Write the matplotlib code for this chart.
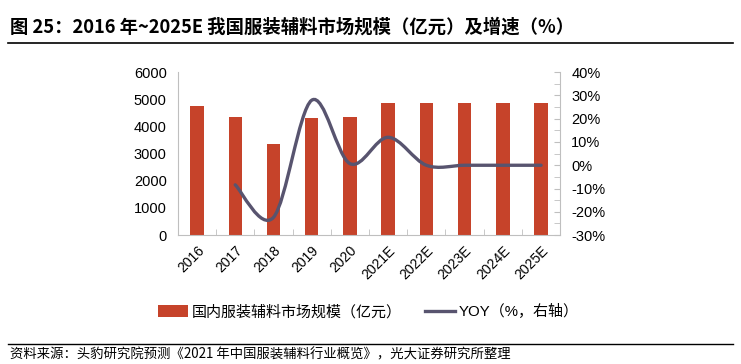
import numpy as np
import matplotlib
matplotlib.use('Agg')
import matplotlib.pyplot as plt
from matplotlib.path import Path
from matplotlib.patches import PathPatch, Patch
from matplotlib.lines import Line2D
from matplotlib.ticker import MultipleLocator, FuncFormatter

plt.rcParams['font.family'] = ['Liberation Sans', 'Noto Sans CJK SC']

# data
years = ['2016', '2017', '2018', '2019', '2020', '2021E', '2022E', '2023E', '2024E', '2025E']
market_size = [4740, 4340, 3370, 4310, 4340, 4860, 4860, 4860, 4860, 4860]   # 亿元
yoy = [None, -8.4, -22.4, 27.9, 0.7, 12.0, 0.0, 0.0, 0.0, 0.0]              # %

bar_color = '#C6432A'
line_color = '#58546F'
spine_color = '#BFBFBF'

fig = plt.figure(figsize=(7.41, 3.64), dpi=100)
ax = fig.add_axes([0.240, 0.354, 0.516, 0.448])
ax2 = ax.twinx()

x = np.arange(len(years))
ax.bar(x, market_size, width=0.35, color=bar_color, zorder=2)
ax.set_xlim(-0.5, len(years) - 0.5)
ax.set_ylim(0, 6000)
ax.yaxis.set_major_locator(MultipleLocator(1000))
ax.set_xticks(x)
ax.set_xticklabels(years, rotation=45, ha='right', va='top', rotation_mode='anchor', fontsize=10)
ax.tick_params(axis='x', length=0, pad=6)
ax.set_xticks(np.arange(-0.5, len(years)), minor=True)
ax.tick_params(axis='x', which='minor', direction='in', length=4, color=spine_color)
ax.tick_params(axis='y', direction='in', length=0, labelsize=10.5, pad=8)
for s in ['top', 'right']:
    ax.spines[s].set_visible(False)
for s in ['left', 'bottom']:
    ax.spines[s].set_color(spine_color)

# smoothed YOY line (Excel-style Bezier smoothing through the data points)
xs = [i for i, v in enumerate(yoy) if v is not None]
ys = [v for v in yoy if v is not None]
pts = np.column_stack([xs, ys]).astype(float)
n = len(pts)
verts = [pts[0]]
codes = [Path.MOVETO]
for i in range(n - 1):
    p0 = pts[i - 1] if i > 0 else pts[i]
    p1 = pts[i]
    p2 = pts[i + 1]
    p3 = pts[i + 2] if i + 2 < n else pts[i + 1]
    c1 = p1 + (p2 - p0) / 6.0
    c2 = p2 - (p3 - p1) / 6.0
    verts += [c1, c2, p2]
    codes += [Path.CURVE4] * 3
ax2.add_patch(PathPatch(Path(verts, codes), facecolor='none', edgecolor=line_color,
                        linewidth=2.4, capstyle='round', transform=ax2.transData, zorder=3))
ax2.set_ylim(-30, 40)
ax2.yaxis.set_major_locator(MultipleLocator(10))
ax2.yaxis.set_minor_locator(MultipleLocator(5))
ax2.yaxis.set_major_formatter(FuncFormatter(lambda v, _: f'{v:.0f}%'))
ax2.tick_params(axis='y', which='both', direction='in', length=4, color=spine_color,
                labelsize=10.5, pad=8)
for s in ['top', 'left', 'bottom']:
    ax2.spines[s].set_visible(False)
ax2.spines['right'].set_color(spine_color)

handles = [Patch(facecolor=bar_color), Line2D([0], [0], color=line_color, linewidth=2.4)]
labels = ['国内服装辅料市场规模（亿元）', 'YOY（%，右轴）']
fig.legend(handles, labels, loc='center', bbox_to_anchor=(0.497, 0.143), ncol=2,
           frameon=False, fontsize=10.8, handlelength=2.0, handleheight=0.8,
           handletextpad=0.3, columnspacing=1.5)

fig.text(0.013, 0.925, '图 25：2016 年~2025E 我国服装辅料市场规模（亿元）及增速（%）',
         fontsize=13.2, fontweight='bold', family=['Noto Sans CJK SC'], va='center', ha='left')
fig.add_artist(Line2D([0.011, 0.989], [0.883, 0.883], color='black', linewidth=1.2))
fig.add_artist(Line2D([0.011, 0.989], [0.055, 0.055], color='black', linewidth=1.0))
fig.text(0.013, 0.027, '资料来源：头豹研究院预测《2021 年中国服装辅料行业概览》，光大证券研究所整理',
         fontsize=9.6, family=['Noto Sans CJK SC'], va='center', ha='left')

fig.savefig('out.png', dpi=100)
